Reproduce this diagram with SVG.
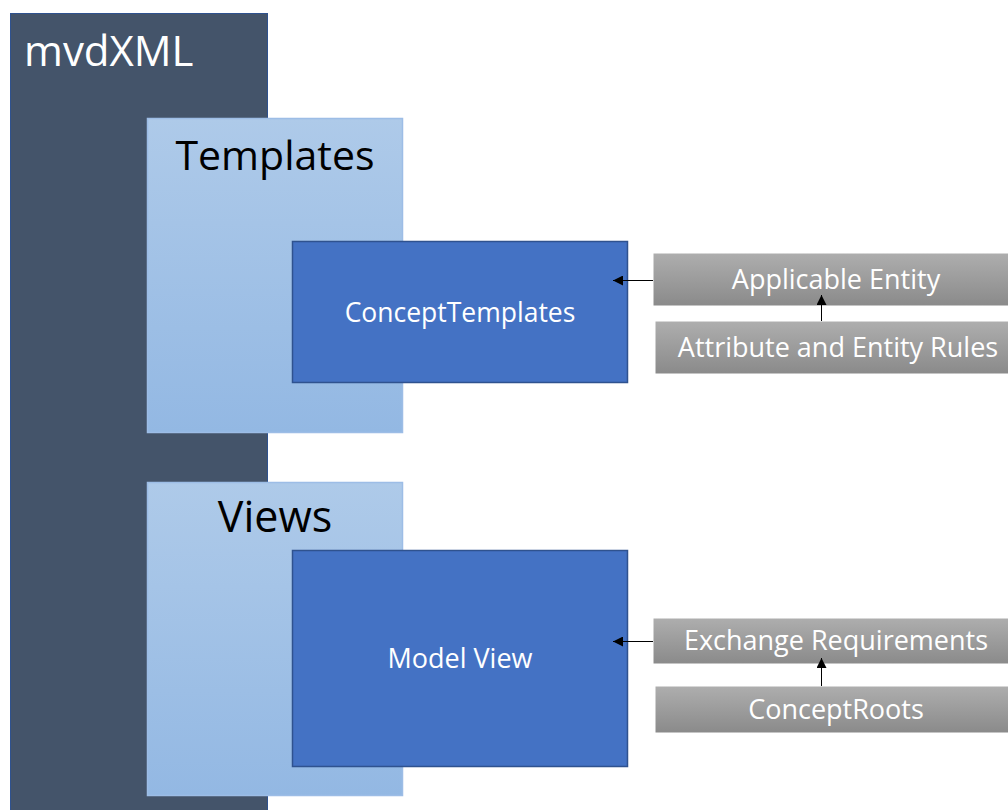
<svg xmlns="http://www.w3.org/2000/svg" width="1008" height="810" viewBox="0 0 1008 810">
<defs>
<style>
.t{font-family:"Open Sans","Liberation Sans",sans-serif}
.w{fill:#fff}
.big{font-size:41px}
.mid{font-size:27px}
.sm{font-size:27px}
.pane{stroke:#9DBDE6;stroke-width:1.5}
.blue{fill:#4472C4;stroke:#2F528F;stroke-width:1.5}
.gray{fill:url(#gg);stroke:#fff;stroke-width:1}
.conn{stroke:#000;stroke-width:1;fill:none}
</style>
<linearGradient id="lb" x1="0" y1="0" x2="0" y2="1">
<stop offset="0" stop-color="#AECAE9"/>
<stop offset="1" stop-color="#93B8E3"/>
</linearGradient>
<linearGradient id="gg" x1="0" y1="0" x2="0" y2="1">
<stop offset="0" stop-color="#AEAEAE"/>
<stop offset="1" stop-color="#8A8A8A"/>
</linearGradient>
<marker id="ah" viewBox="0 0 10 10" refX="10" refY="5" markerWidth="10" markerHeight="10" markerUnits="userSpaceOnUse" orient="auto">
<path d="M0,0 L10,5 L0,10 z" fill="#000"/>
</marker>
</defs>
<rect width="1008" height="810" fill="#fff"/>
<g id="mvdxml">
<rect x="10.5" y="13.5" width="257" height="810" fill="#44546A" stroke="#2F528F" stroke-width="1"/>
<text class="t w" x="24" y="66" font-size="42">mvdXML</text>
</g>
<g id="templates">
<rect class="pane" x="147.5" y="118.5" width="255" height="314" fill="url(#lb)"/>
<text class="t big" x="275" y="170" text-anchor="middle" fill="#000">Templates</text>
</g>
<g id="views">
<rect class="pane" x="147.5" y="482.5" width="255" height="313" fill="url(#lb)"/>
<text class="t" x="275" y="532" font-size="43" text-anchor="middle" fill="#000">Views</text>
</g>
<g id="concepttemplates">
<rect class="blue" x="292.5" y="241.5" width="335" height="141"/>
<text class="t w" x="460" y="322" font-size="26.5" text-anchor="middle">ConceptTemplates</text>
</g>
<g id="modelview">
<rect class="blue" x="292.5" y="550.5" width="335" height="216"/>
<text class="t w mid" x="460" y="668" text-anchor="middle">Model View</text>
</g>
<g id="applicable">
<rect class="gray" x="653" y="253" width="360" height="53"/>
<text class="t w sm" x="836" y="289" text-anchor="middle">Applicable Entity</text>
</g>
<g id="attrrules">
<rect class="gray" x="655" y="321" width="360" height="53"/>
<text class="t w sm" x="838" y="357" text-anchor="middle">Attribute and Entity Rules</text>
</g>
<g id="exchange">
<rect class="gray" x="653" y="618" width="360" height="46"/>
<text class="t w sm" x="836" y="650" text-anchor="middle">Exchange Requirements</text>
</g>
<g id="conceptroots">
<rect class="gray" x="655" y="686" width="360" height="47"/>
<text class="t w sm" x="836" y="719" text-anchor="middle">ConceptRoots</text>
</g>
<g id="connectors">
<line class="conn" x1="653" y1="280.5" x2="613" y2="280.5" marker-end="url(#ah)"/>
<line class="conn" x1="821.5" y1="321" x2="821.5" y2="295" marker-end="url(#ah)"/>
<line class="conn" x1="653" y1="641.5" x2="613" y2="641.5" marker-end="url(#ah)"/>
<line class="conn" x1="821.5" y1="686" x2="821.5" y2="658" marker-end="url(#ah)"/>
</g>
</svg>
